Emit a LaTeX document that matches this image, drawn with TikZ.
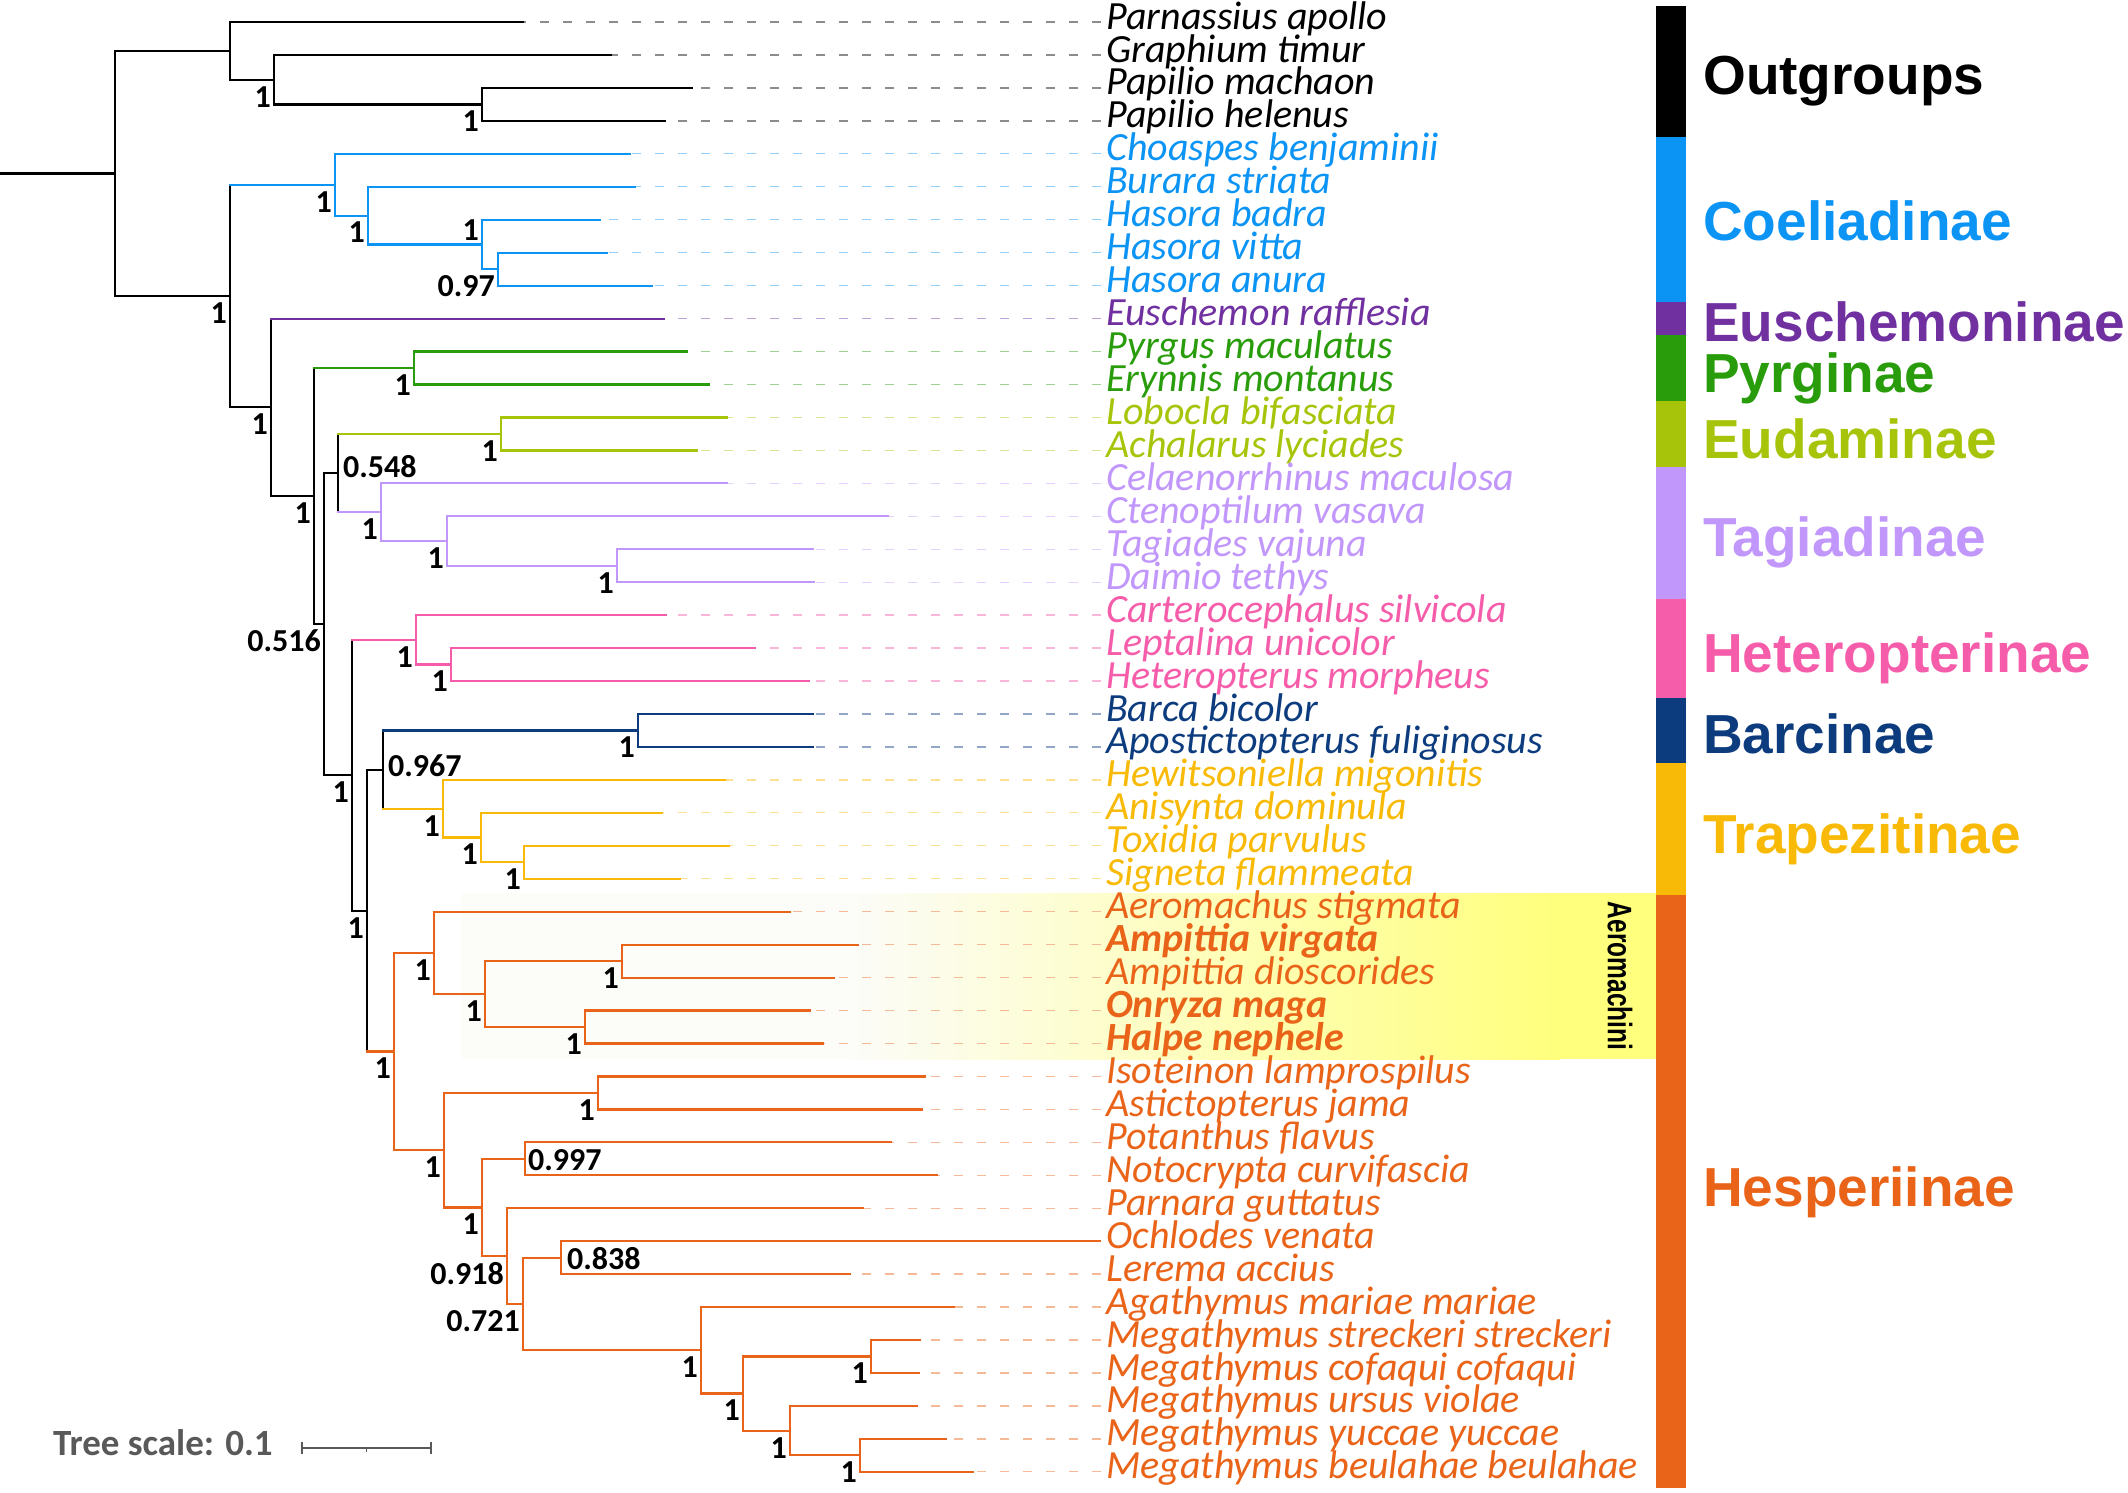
\documentclass[tikz,border=0pt]{standalone}
\usepackage{fontspec}
\setmainfont{Carlito}
\newfontfamily\grpfont{Liberation Sans}
\usetikzlibrary{calc}
\definecolor{coelcol}{RGB}{12,148,245}
\definecolor{eusccol}{RGB}{112,48,160}
\definecolor{pyrgcol}{RGB}{40,156,10}
\definecolor{eudacol}{RGB}{168,196,10}
\definecolor{tagicol}{RGB}{194,151,252}
\definecolor{hetecol}{RGB}{245,92,170}
\definecolor{barccol}{RGB}{12,60,126}
\definecolor{trapcol}{RGB}{248,186,6}
\definecolor{hespcol}{RGB}{233,100,24}
\definecolor{hlyellow}{RGB}{255,255,125}
\definecolor{hlpale}{RGB}{252,252,249}
\definecolor{scalegray}{RGB}{89,89,89}

\begin{document}
\begin{tikzpicture}[x=1pt, y=-1pt,
    br/.style={line width=2.2pt, line cap=rect},
    lead/.style={line width=1.3pt, dash pattern=on 9pt off 14pt, draw=#1!45!white},
    leaf/.style={anchor=base west, yshift=-7pt, inner xsep=5pt, inner ysep=0pt,
                 font=\fontsize{40}{44}\selectfont\itshape},
    supp/.style={anchor=east, inner sep=0pt, font=\fontsize{32}{36}\selectfont\bfseries},
    suppr/.style={supp, anchor=west},
    grp/.style={anchor=base west, inner sep=0pt, font=\grpfont\fontsize{55}{60}\selectfont\bfseries}]
\useasboundingbox (0,0) rectangle (2128,1492);

\fill[hlpale] (462,893) rectangle (850,1059);
\shade[left color=hlpale, right color=hlyellow] (849,893) rectangle (1560,1059);
\fill[hlyellow] (1559,893) rectangle (1656,1059);
\node[rotate=-90, inner sep=0pt, font=\grpfont\fontsize{34}{38}\selectfont\bfseries] (aero) at (1620,976) {\scalebox{0.72}[1]{Aeromachini}};

\fill[black]   (1656,5.5)   rectangle (1686,137.3);
\fill[coelcol] (1656,137.3) rectangle (1686,302.1);
\fill[eusccol] (1656,302.1) rectangle (1686,335.0);
\fill[pyrgcol] (1656,335.0) rectangle (1686,400.9);
\fill[eudacol] (1656,400.9) rectangle (1686,466.8);
\fill[tagicol] (1656,466.8) rectangle (1686,598.6);
\fill[hetecol] (1656,598.6) rectangle (1686,697.5);
\fill[barccol] (1656,697.5) rectangle (1686,763.4);
\fill[trapcol] (1656,763.4) rectangle (1686,895.2);
\fill[hespcol] (1656,895.2) rectangle (1686,1488.3);

\node[grp] (gOut)  at (1703,94)   {Outgroups};
\node[grp, text=coelcol] (gCoel) at (1703,240)  {Coeliadinae};
\node[grp, text=eusccol] (gEusc) at (1703,341)  {Euschemoninae};
\node[grp, text=pyrgcol] (gPyrg) at (1703,392)  {Pyrginae};
\node[grp, text=eudacol] (gEuda) at (1703,458)  {Eudaminae};
\node[grp, text=tagicol] (gTagi) at (1703,556)  {Tagiadinae};
\node[grp, text=hetecol] (gHete) at (1703,672)  {Heteropterinae};
\node[grp, text=barccol] (gBarc) at (1703,753)  {Barcinae};
\node[grp, text=trapcol] (gTrap) at (1703,853)  {Trapezitinae};
\node[grp, text=hespcol] (gHesp) at (1703,1206) {Hesperiinae};

\node[leaf] (t0) at (1101,22.0) {Parnassius apollo};
\node[leaf] (t1) at (1101,55.0) {Graphium timur};
\node[leaf] (t2) at (1101,87.9) {Papilio machaon};
\node[leaf] (t3) at (1101,120.9) {Papilio helenus};
\node[leaf, text=coelcol] (t4) at (1101,153.8) {Choaspes benjaminii};
\node[leaf, text=coelcol] (t5) at (1101,186.8) {Burara striata};
\node[leaf, text=coelcol] (t6) at (1101,219.7) {Hasora badra};
\node[leaf, text=coelcol] (t7) at (1101,252.7) {Hasora vitta};
\node[leaf, text=coelcol] (t8) at (1101,285.6) {Hasora anura};
\node[leaf, text=eusccol] (t9) at (1101,318.6) {Euschemon rafflesia};
\node[leaf, text=pyrgcol] (t10) at (1101,351.5) {Pyrgus maculatus};
\node[leaf, text=pyrgcol] (t11) at (1101,384.5) {Erynnis montanus};
\node[leaf, text=eudacol] (t12) at (1101,417.4) {Lobocla bifasciata};
\node[leaf, text=eudacol] (t13) at (1101,450.4) {Achalarus lyciades};
\node[leaf, text=tagicol] (t14) at (1101,483.3) {Celaenorrhinus maculosa};
\node[leaf, text=tagicol] (t15) at (1101,516.3) {Ctenoptilum vasava};
\node[leaf, text=tagicol] (t16) at (1101,549.2) {Tagiades vajuna};
\node[leaf, text=tagicol] (t17) at (1101,582.2) {Daimio tethys};
\node[leaf, text=hetecol] (t18) at (1101,615.1) {Carterocephalus silvicola};
\node[leaf, text=hetecol] (t19) at (1101,648.1) {Leptalina unicolor};
\node[leaf, text=hetecol] (t20) at (1101,681.0) {Heteropterus morpheus};
\node[leaf, text=barccol] (t21) at (1101,714.0) {Barca bicolor};
\node[leaf, text=barccol] (t22) at (1101,746.9) {Apostictopterus fuliginosus};
\node[leaf, text=trapcol] (t23) at (1101,779.9) {Hewitsoniella migonitis};
\node[leaf, text=trapcol] (t24) at (1101,812.8) {Anisynta dominula};
\node[leaf, text=trapcol] (t25) at (1101,845.8) {Toxidia parvulus};
\node[leaf, text=trapcol] (t26) at (1101,878.7) {Signeta flammeata};
\node[leaf, text=hespcol] (t27) at (1101,911.7) {Aeromachus stigmata};
\node[leaf, text=hespcol] (t28) at (1101,944.6) {\bfseries Ampittia virgata};
\node[leaf, text=hespcol] (t29) at (1101,977.6) {Ampittia dioscorides};
\node[leaf, text=hespcol] (t30) at (1101,1010.5) {\bfseries Onryza maga};
\node[leaf, text=hespcol] (t31) at (1101,1043.5) {\bfseries Halpe nephele};
\node[leaf, text=hespcol] (t32) at (1101,1076.4) {Isoteinon lamprospilus};
\node[leaf, text=hespcol] (t33) at (1101,1109.4) {Astictopterus jama};
\node[leaf, text=hespcol] (t34) at (1101,1142.3) {Potanthus flavus};
\node[leaf, text=hespcol] (t35) at (1101,1175.3) {Notocrypta curvifascia};
\node[leaf, text=hespcol] (t36) at (1101,1208.2) {Parnara guttatus};
\node[leaf, text=hespcol] (t37) at (1101,1241.2) {Ochlodes venata};
\node[leaf, text=hespcol] (t38) at (1101,1274.1) {Lerema accius};
\node[leaf, text=hespcol] (t39) at (1101,1307.1) {Agathymus mariae mariae};
\node[leaf, text=hespcol] (t40) at (1101,1340.0) {Megathymus streckeri streckeri};
\node[leaf, text=hespcol] (t41) at (1101,1373.0) {Megathymus cofaqui cofaqui};
\node[leaf, text=hespcol] (t42) at (1101,1405.9) {Megathymus ursus violae};
\node[leaf, text=hespcol] (t43) at (1101,1438.9) {Megathymus yuccae yuccae};
\node[leaf, text=hespcol] (t44) at (1101,1471.8) {Megathymus beulahae beulahae};

\coordinate (e0) at (523,22.0);
\coordinate (e1) at (611,55.0);
\coordinate (e2) at (692,87.9);
\coordinate (e3) at (665,120.9);
\coordinate (e4) at (630,153.8);
\coordinate (e5) at (635,186.8);
\coordinate (e6) at (600,219.7);
\coordinate (e7) at (607,252.7);
\coordinate (e8) at (652,285.6);
\coordinate (e9) at (664,318.6);
\coordinate (e10) at (687,351.5);
\coordinate (e11) at (709,384.5);
\coordinate (e12) at (727,417.4);
\coordinate (e13) at (697,450.4);
\coordinate (e14) at (727,483.3);
\coordinate (e15) at (888,516.3);
\coordinate (e16) at (813,549.2);
\coordinate (e17) at (814,582.2);
\coordinate (e18) at (666,615.1);
\coordinate (e19) at (755,648.1);
\coordinate (e20) at (809,681.0);
\coordinate (e21) at (813,714.0);
\coordinate (e22) at (813,746.9);
\coordinate (e23) at (725,779.9);
\coordinate (e24) at (662,812.8);
\coordinate (e25) at (729,845.8);
\coordinate (e26) at (680,878.7);
\coordinate (e27) at (790,911.7);
\coordinate (e28) at (858,944.6);
\coordinate (e29) at (834,977.6);
\coordinate (e30) at (810,1010.5);
\coordinate (e31) at (823,1043.5);
\coordinate (e32) at (925,1076.4);
\coordinate (e33) at (922,1109.4);
\coordinate (e34) at (891,1142.3);
\coordinate (e35) at (937,1175.3);
\coordinate (e36) at (863,1208.2);
\coordinate (e37) at (1100,1241.2);
\coordinate (e38) at (850,1274.1);
\coordinate (e39) at (954,1307.1);
\coordinate (e40) at (920,1340.0);
\coordinate (e41) at (919,1373.0);
\coordinate (e42) at (917,1405.9);
\coordinate (e43) at (946,1438.9);
\coordinate (e44) at (973,1471.8);

\coordinate (root) at (0,173.4);
\coordinate (nR) at (115,173.4);
\coordinate (nA) at (230,50.9);
\coordinate (nB) at (274,79.7);
\coordinate (nC) at (482,104.4);
\coordinate (nD) at (230,296.0);
\coordinate (nE) at (335,184.7);
\coordinate (nF) at (368,215.6);
\coordinate (nG) at (482,244.4);
\coordinate (nH) at (498,269.1);
\coordinate (nI) at (271,407.3);
\coordinate (nJ) at (314,496.0);
\coordinate (nK) at (414,368.0);
\coordinate (nL) at (324,624.1);
\coordinate (nM) at (338,473.0);
\coordinate (nN) at (501,433.9);
\coordinate (nO) at (381,512.1);
\coordinate (nP) at (447,541.0);
\coordinate (nQ) at (617,565.7);
\coordinate (nS) at (352,775.2);
\coordinate (nT) at (416,639.8);
\coordinate (nU) at (451,664.5);
\coordinate (nV) at (367,910.6);
\coordinate (nW) at (383,769.6);
\coordinate (nX) at (638,730.4);
\coordinate (nY) at (443,808.7);
\coordinate (nZ) at (481,837.5);
\coordinate (nAA) at (524,862.2);
\coordinate (nAB) at (394,1051.5);
\coordinate (nAC) at (434,952.8);
\coordinate (nAD) at (485,994.0);
\coordinate (nAE) at (622,961.1);
\coordinate (nAF) at (585,1027.0);
\coordinate (nAG) at (444,1150.2);
\coordinate (nAH) at (598,1092.9);
\coordinate (nAI) at (482,1207.4);
\coordinate (nAJ) at (525,1158.8);
\coordinate (nAK) at (507,1256.1);
\coordinate (nAL) at (523,1304.0);
\coordinate (nAM) at (561,1257.6);
\coordinate (nAN) at (701,1350.3);
\coordinate (nAO) at (743,1393.5);
\coordinate (nAP) at (871,1356.5);
\coordinate (nAQ) at (790,1430.6);
\coordinate (nAR) at (860,1455.3);

\draw[lead=black] (t0.west |- e0) -- (e0);
\draw[lead=black] (t1.west |- e1) -- (e1);
\draw[lead=black] (t2.west |- e2) -- (e2);
\draw[lead=black] (t3.west |- e3) -- (e3);
\draw[lead=coelcol] (t4.west |- e4) -- (e4);
\draw[lead=coelcol] (t5.west |- e5) -- (e5);
\draw[lead=coelcol] (t6.west |- e6) -- (e6);
\draw[lead=coelcol] (t7.west |- e7) -- (e7);
\draw[lead=coelcol] (t8.west |- e8) -- (e8);
\draw[lead=eusccol] (t9.west |- e9) -- (e9);
\draw[lead=pyrgcol] (t10.west |- e10) -- (e10);
\draw[lead=pyrgcol] (t11.west |- e11) -- (e11);
\draw[lead=eudacol] (t12.west |- e12) -- (e12);
\draw[lead=eudacol] (t13.west |- e13) -- (e13);
\draw[lead=tagicol] (t14.west |- e14) -- (e14);
\draw[lead=tagicol] (t15.west |- e15) -- (e15);
\draw[lead=tagicol] (t16.west |- e16) -- (e16);
\draw[lead=tagicol] (t17.west |- e17) -- (e17);
\draw[lead=hetecol] (t18.west |- e18) -- (e18);
\draw[lead=hetecol] (t19.west |- e19) -- (e19);
\draw[lead=hetecol] (t20.west |- e20) -- (e20);
\draw[lead=barccol] (t21.west |- e21) -- (e21);
\draw[lead=barccol] (t22.west |- e22) -- (e22);
\draw[lead=trapcol] (t23.west |- e23) -- (e23);
\draw[lead=trapcol] (t24.west |- e24) -- (e24);
\draw[lead=trapcol] (t25.west |- e25) -- (e25);
\draw[lead=trapcol] (t26.west |- e26) -- (e26);
\draw[lead=hespcol] (t27.west |- e27) -- (e27);
\draw[lead=hespcol] (t28.west |- e28) -- (e28);
\draw[lead=hespcol] (t29.west |- e29) -- (e29);
\draw[lead=hespcol] (t30.west |- e30) -- (e30);
\draw[lead=hespcol] (t31.west |- e31) -- (e31);
\draw[lead=hespcol] (t32.west |- e32) -- (e32);
\draw[lead=hespcol] (t33.west |- e33) -- (e33);
\draw[lead=hespcol] (t34.west |- e34) -- (e34);
\draw[lead=hespcol] (t35.west |- e35) -- (e35);
\draw[lead=hespcol] (t36.west |- e36) -- (e36);
\draw[lead=hespcol] (t38.west |- e38) -- (e38);
\draw[lead=hespcol] (t39.west |- e39) -- (e39);
\draw[lead=hespcol] (t40.west |- e40) -- (e40);
\draw[lead=hespcol] (t41.west |- e41) -- (e41);
\draw[lead=hespcol] (t42.west |- e42) -- (e42);
\draw[lead=hespcol] (t43.west |- e43) -- (e43);
\draw[lead=hespcol] (t44.west |- e44) -- (e44);

\draw[br] (root) -- (nR);
\draw[br] (nR) |- (nA);
\draw[br] (nR) |- (nD);
\draw[br] (nA) |- (e0);
\draw[br] (nA) |- (nB);
\draw[br] (nB) |- (e1);
\draw[br] (nB) |- (nC);
\draw[br] (nC) |- (e2);
\draw[br] (nC) |- (e3);
\draw[br] (nD) -- (nD |- nE);
\draw[br, coelcol] (nD |- nE) -- (nE);
\draw[br, coelcol] (nE) |- (e4);
\draw[br, coelcol] (nE) |- (nF);
\draw[br, coelcol] (nF) |- (e5);
\draw[br, coelcol] (nF) |- (nG);
\draw[br, coelcol] (nG) |- (e6);
\draw[br, coelcol] (nG) |- (nH);
\draw[br, coelcol] (nH) |- (e7);
\draw[br, coelcol] (nH) |- (e8);
\draw[br] (nD) |- (nI);
\draw[br] (nI) -- (nI |- e9);
\draw[br, eusccol] (nI |- e9) -- (e9);
\draw[br] (nI) |- (nJ);
\draw[br] (nJ) -- (nJ |- nK);
\draw[br, pyrgcol] (nJ |- nK) -- (nK);
\draw[br, pyrgcol] (nK) |- (e10);
\draw[br, pyrgcol] (nK) |- (e11);
\draw[br] (nJ) |- (nL);
\draw[br] (nL) |- (nM);
\draw[br] (nM) -- (nM |- nN);
\draw[br, eudacol] (nM |- nN) -- (nN);
\draw[br, eudacol] (nN) |- (e12);
\draw[br, eudacol] (nN) |- (e13);
\draw[br] (nM) -- (nM |- nO);
\draw[br, tagicol] (nM |- nO) -- (nO);
\draw[br, tagicol] (nO) |- (e14);
\draw[br, tagicol] (nO) |- (nP);
\draw[br, tagicol] (nP) |- (e15);
\draw[br, tagicol] (nP) |- (nQ);
\draw[br, tagicol] (nQ) |- (e16);
\draw[br, tagicol] (nQ) |- (e17);
\draw[br] (nL) |- (nS);
\draw[br] (nS) -- (nS |- nT);
\draw[br, hetecol] (nS |- nT) -- (nT);
\draw[br, hetecol] (nT) |- (e18);
\draw[br, hetecol] (nT) |- (nU);
\draw[br, hetecol] (nU) |- (e19);
\draw[br, hetecol] (nU) |- (e20);
\draw[br] (nS) |- (nV);
\draw[br] (nV) |- (nW);
\draw[br] (nW) -- (nW |- nX);
\draw[br, barccol] (nW |- nX) -- (nX);
\draw[br, barccol] (nX) |- (e21);
\draw[br, barccol] (nX) |- (e22);
\draw[br] (nW) -- (nW |- nY);
\draw[br, trapcol] (nW |- nY) -- (nY);
\draw[br, trapcol] (nY) |- (e23);
\draw[br, trapcol] (nY) |- (nZ);
\draw[br, trapcol] (nZ) |- (e24);
\draw[br, trapcol] (nZ) |- (nAA);
\draw[br, trapcol] (nAA) |- (e25);
\draw[br, trapcol] (nAA) |- (e26);
\draw[br] (nV) -- (nV |- nAB);
\draw[br, hespcol] (nV |- nAB) -- (nAB);
\draw[br, hespcol] (nAB) |- (nAC);
\draw[br, hespcol] (nAB) |- (nAG);
\draw[br, hespcol] (nAC) |- (e27);
\draw[br, hespcol] (nAC) |- (nAD);
\draw[br, hespcol] (nAD) |- (nAE);
\draw[br, hespcol] (nAD) |- (nAF);
\draw[br, hespcol] (nAE) |- (e28);
\draw[br, hespcol] (nAE) |- (e29);
\draw[br, hespcol] (nAF) |- (e30);
\draw[br, hespcol] (nAF) |- (e31);
\draw[br, hespcol] (nAG) |- (nAH);
\draw[br, hespcol] (nAG) |- (nAI);
\draw[br, hespcol] (nAH) |- (e32);
\draw[br, hespcol] (nAH) |- (e33);
\draw[br, hespcol] (nAI) |- (nAJ);
\draw[br, hespcol] (nAI) |- (nAK);
\draw[br, hespcol] (nAJ) |- (e34);
\draw[br, hespcol] (nAJ) |- (e35);
\draw[br, hespcol] (nAK) |- (e36);
\draw[br, hespcol] (nAK) |- (nAL);
\draw[br, hespcol] (nAL) |- (nAM);
\draw[br, hespcol] (nAL) |- (nAN);
\draw[br, hespcol] (nAM) |- (e37);
\draw[br, hespcol] (nAM) |- (e38);
\draw[br, hespcol] (nAN) |- (e39);
\draw[br, hespcol] (nAN) |- (nAO);
\draw[br, hespcol] (nAO) |- (nAP);
\draw[br, hespcol] (nAO) |- (nAQ);
\draw[br, hespcol] (nAP) |- (e40);
\draw[br, hespcol] (nAP) |- (e41);
\draw[br, hespcol] (nAQ) |- (e42);
\draw[br, hespcol] (nAQ) |- (nAR);
\draw[br, hespcol] (nAR) |- (e43);
\draw[br, hespcol] (nAR) |- (e44);

\node[supp] (sB) at ($(nB)+(-3,17)$) {1};
\node[supp] (sC) at ($(nC)+(-3,17)$) {1};
\node[supp] (sD) at ($(nD)+(-3,17)$) {1};
\node[supp] (sE) at ($(nE)+(-3,17)$) {1};
\node[supp] (sF) at ($(nF)+(-3,17)$) {1};
\node[supp] (sG) at ($(nG)+(-3,-14)$) {1};
\node[supp] (sH) at ($(nH)+(-3,17)$) {0.97};
\node[supp] (sI) at ($(nI)+(-3,17)$) {1};
\node[supp] (sJ) at ($(nJ)+(-3,17)$) {1};
\node[supp] (sK) at ($(nK)+(-3,17)$) {1};
\node[supp] (sL) at ($(nL)+(-3,17)$) {0.516};
\node[suppr] (sM) at ($(nM)+(5,-6)$) {0.548};
\node[supp] (sN) at ($(nN)+(-3,17)$) {1};
\node[supp] (sO) at ($(nO)+(-3,17)$) {1};
\node[supp] (sP) at ($(nP)+(-3,17)$) {1};
\node[supp] (sQ) at ($(nQ)+(-3,17)$) {1};
\node[supp] (sS) at ($(nS)+(-3,17)$) {1};
\node[supp] (sT) at ($(nT)+(-3,17)$) {1};
\node[supp] (sU) at ($(nU)+(-3,17)$) {1};
\node[supp] (sV) at ($(nV)+(-3,17)$) {1};
\node[suppr] (sW) at ($(nW)+(5,-4)$) {0.967};
\node[supp] (sX) at ($(nX)+(-3,17)$) {1};
\node[supp] (sY) at ($(nY)+(-3,17)$) {1};
\node[supp] (sZ) at ($(nZ)+(-3,17)$) {1};
\node[supp] (sAA) at ($(nAA)+(-3,17)$) {1};
\node[supp] (sAB) at ($(nAB)+(-3,17)$) {1};
\node[supp] (sAC) at ($(nAC)+(-3,17)$) {1};
\node[supp] (sAD) at ($(nAD)+(-3,17)$) {1};
\node[supp] (sAE) at ($(nAE)+(-3,17)$) {1};
\node[supp] (sAF) at ($(nAF)+(-3,17)$) {1};
\node[supp] (sAG) at ($(nAG)+(-3,17)$) {1};
\node[supp] (sAH) at ($(nAH)+(-3,17)$) {1};
\node[supp] (sAI) at ($(nAI)+(-3,17)$) {1};
\node[suppr] (sAJ) at ($(nAJ)+(3,1)$) {0.997};
\node[supp] (sAK) at ($(nAK)+(-3,17)$) {0.918};
\node[supp] (sAL) at ($(nAL)+(-3,17)$) {0.721};
\node[suppr] (sAM) at ($(nAM)+(6,1)$) {0.838};
\node[supp] (sAN) at ($(nAN)+(-3,17)$) {1};
\node[supp] (sAO) at ($(nAO)+(-3,17)$) {1};
\node[supp] (sAP) at ($(nAP)+(-3,17)$) {1};
\node[supp] (sAQ) at ($(nAQ)+(-3,17)$) {1};
\node[supp] (sAR) at ($(nAR)+(-3,17)$) {1};

\node[anchor=base west, inner sep=0pt, text=scalegray, font=\fontsize{37}{40}\selectfont\bfseries] (scl) at (53,1455) {Tree scale: 0.1};
\coordinate (sb0) at (302,1448);
\coordinate (sb1) at (431,1448);
\draw[scalegray, line width=1.5pt] (sb0) -- (sb1);
\draw[scalegray, line width=1.5pt] ($(sb0)+(0,-6)$) -- ($(sb0)+(0,6)$);
\draw[scalegray, line width=1.5pt] ($(sb1)+(0,-6)$) -- ($(sb1)+(0,6)$);
\draw[scalegray, line width=1.2pt] ($(sb0)!0.5!(sb1)$) -- +(0,4);
\end{tikzpicture}
\end{document}
